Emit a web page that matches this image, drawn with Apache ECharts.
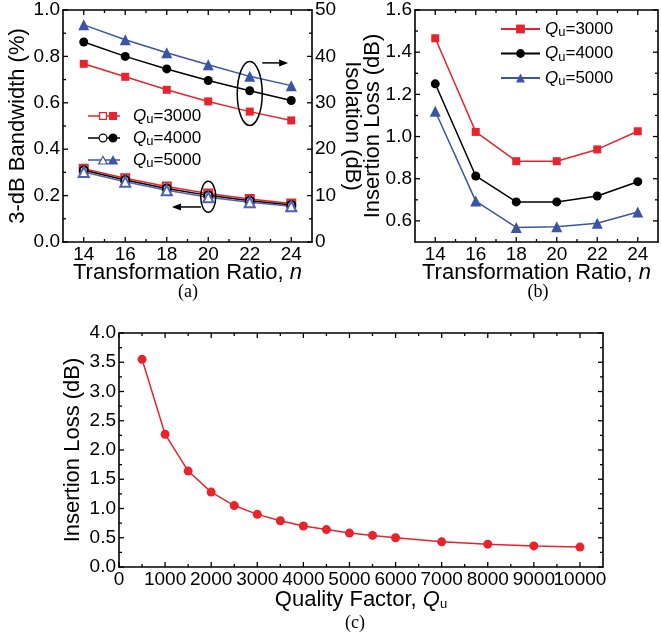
<!DOCTYPE html>
<html>
<head>
<meta charset="utf-8">
<script src="https://cdn.jsdelivr.net/npm/echarts@6/dist/echarts.min.js"></script>
<style>
  html, body { margin: 0; padding: 0; background: #fff; }
  #chart { width: 661px; height: 638px; }
</style>
</head>
<body>
<div id="chart"></div>
<script>
// ---- data ----
// (a) and (b): transformation ratio n
const nValues = [14, 16, 18, 20, 22, 24];
const nTicks = [14, 16, 18, 20, 22, 24];
const nMinorTicks = [15, 17, 19, 21, 23];

// (a) isolation (dB), right axis
const isoQ3000 = [38.4, 35.6, 32.8, 30.3, 28.1, 26.2];
const isoQ4000 = [43.1, 40.0, 37.3, 34.8, 32.6, 30.5];
const isoQ5000 = [46.8, 43.6, 40.8, 38.2, 35.7, 33.7];
// (a) 3-dB bandwidth (%), left axis
const bwQ3000 = [0.316, 0.275, 0.239, 0.209, 0.185, 0.166];
const bwQ4000 = [0.309, 0.267, 0.231, 0.201, 0.178, 0.160];
const bwQ5000 = [0.302, 0.260, 0.223, 0.193, 0.171, 0.154];
const bwTicks = [0, 0.2, 0.4, 0.6, 0.8, 1.0];
const bwMinorTicks = [0.1, 0.3, 0.5, 0.7, 0.9];
const isoTicks = [0, 10, 20, 30, 40, 50];
const isoMinorTicks = [5, 15, 25, 35, 45];

// (b) insertion loss (dB)
const ilQ3000 = [1.466, 1.022, 0.883, 0.883, 0.939, 1.025];
const ilQ4000 = [1.250, 0.813, 0.690, 0.690, 0.718, 0.786];
const ilQ5000 = [1.120, 0.694, 0.569, 0.572, 0.589, 0.642];
const ilTicks = [0.6, 0.8, 1.0, 1.2, 1.4, 1.6];
const ilMinorTicks = [0.7, 0.9, 1.1, 1.3, 1.5];

// (c) insertion loss vs unloaded quality factor
const qFactor = [500, 1000, 1500, 2000, 2500, 3000, 3500, 4000, 4500, 5000, 5500, 6000, 7000, 8000, 9000, 10000];
const ilVsQ = [3.55, 2.27, 1.64, 1.28, 1.05, 0.90, 0.79, 0.70, 0.64, 0.58, 0.54, 0.50, 0.43, 0.39, 0.36, 0.34];
const qTicks = [0, 1000, 2000, 3000, 4000, 5000, 6000, 7000, 8000, 9000, 10000];
const qMinorTicks = [500, 1500, 2500, 3500, 4500, 5500, 6500, 7500, 8500, 9500];
const ilcTicks = [0, 0.5, 1.0, 1.5, 2.0, 2.5, 3.0, 3.5, 4.0];
const ilcMinorTicks = [0.25, 0.75, 1.25, 1.75, 2.25, 2.75, 3.25, 3.75];

// annotation anchors (data coordinates of panel (a))
const isoCallout = { n: 22, iso: 32, arrowFrom: 22.6, arrowTo: 23.85, arrowIso: 38.6 };
const bwCallout = { n: 20, bw: 0.195, arrowFrom: 19.65, arrowTo: 18.25, arrowBw: 0.151 };

// ---- styling ----
const FONT = 'Liberation Sans';
const RED = '#e8232b', BLACK = '#000000', BLUE = '#3b55a6';
const TICK_FONT = 19, NAME_FONT = 22;
const MAJOR_LEN = 5, MINOR_LEN = 3;
const SUB = { fontSize: 13, lineHeight: 10, verticalAlign: 'bottom', fontFamily: FONT };

function pairs(xs, ys) { return xs.map((x, i) => [x, ys[i]]); }

// One framed axis; labels only on the listed values. Tick marks are added after layout.
function frameAxis(gridIndex, position, min, max, step, labelVals, fmt, extra) {
  const shown = v => labelVals.some(t => Math.abs(t - v) < 1e-6);
  return Object.assign({
    gridIndex, type: 'value', position, min, max, interval: step,
    splitLine: { show: false },
    nameMoveOverlap: false,
    axisLine: { show: true, onZero: false, lineStyle: { color: '#000', width: 1.6 } },
    axisTick: { show: false },
    axisLabel: fmt ? {
      show: true, color: '#000', fontSize: TICK_FONT, fontFamily: FONT, margin: 3,
      formatter: v => shown(v) ? fmt(v) : ''
    } : { show: false }
  }, extra || {});
}

function axisName(name, gap, rotate, rich) {
  const o = {
    name, nameLocation: 'middle', nameGap: gap,
    nameTextStyle: { fontSize: NAME_FONT, fontFamily: FONT, color: '#000', lineHeight: 22, rich: rich || {} }
  };
  if (rotate !== undefined) o.nameRotate = rotate;
  return o;
}

const fmt1 = v => v.toFixed(1);
const fmt0 = v => String(Math.round(v));
const nRich = { i: { fontStyle: 'italic', fontSize: NAME_FONT, fontFamily: FONT, lineHeight: 22 } };

const xAxes = [
  // panel (a)
  frameAxis(0, 'bottom', 13, 25, 1, nTicks, fmt0,
    axisName('Transformation Ratio, {i|n}', 20, undefined, nRich)),
  frameAxis(0, 'top', 13, 25, 1, nTicks, null),
  // panel (b)
  frameAxis(1, 'bottom', 13, 25, 1, nTicks, fmt0,
    axisName('Transformation Ratio, {i|n}', 20, undefined, nRich)),
  frameAxis(1, 'top', 13, 25, 1, nTicks, null),
  // panel (c)
  frameAxis(2, 'bottom', 0, 10500, 500, qTicks, fmt0,
    axisName('Quality Factor, {q|Q}{u|u}', 22, undefined, {
      q: { fontStyle: 'italic', fontSize: NAME_FONT, fontFamily: FONT, lineHeight: 22 }, u: SUB })),
  frameAxis(2, 'top', 0, 10500, 500, qTicks, null)
];

const yAxes = [
  // panel (a)
  frameAxis(0, 'left', 0, 1, 0.1, bwTicks, fmt1, axisName('3-dB Bandwidth (%)', 34)),
  frameAxis(0, 'right', 0, 50, 5, isoTicks, fmt0, axisName('Isolation (dB)', 29, -90)),
  // panel (b)
  frameAxis(1, 'left', 0.5, 1.6, 0.1, ilTicks, fmt1, axisName('Insertion Loss (dB)', 31)),
  frameAxis(1, 'right', 0.5, 1.6, 0.1, ilTicks, null),
  // panel (c)
  frameAxis(2, 'left', 0, 4, 0.25, ilcTicks, fmt1, axisName('Insertion Loss (dB)', 35)),
  frameAxis(2, 'right', 0, 4, 0.25, ilcTicks, null)
];

function lineSeries(name, xi, yi, data, color, symbol, size, extra) {
  return Object.assign({
    name, type: 'line', xAxisIndex: xi, yAxisIndex: yi, data,
    symbol, symbolSize: size, showSymbol: true,
    lineStyle: { color, width: 1.5 },
    itemStyle: { color },
    emphasis: { disabled: true }
  }, extra || {});
}
const hollow = color => ({ itemStyle: { color, borderColor: color, borderWidth: 1.2 }, z: 3 });

const series = [
  // (a) bandwidth, hollow markers on the left axis
  lineSeries('Bandwidth, Qu=3000', 0, 0, pairs(nValues, bwQ3000), RED, 'emptyRect', 8, hollow(RED)),
  lineSeries('Bandwidth, Qu=4000', 0, 0, pairs(nValues, bwQ4000), BLACK, 'emptyCircle', 8, hollow(BLACK)),
  lineSeries('Bandwidth, Qu=5000', 0, 0, pairs(nValues, bwQ5000), '#4a63b4', 'emptyTriangle', 10, hollow('#4a63b4')),
  // (a) isolation, filled markers on the right axis
  lineSeries('Isolation, Qu=3000', 0, 1, pairs(nValues, isoQ3000), RED, 'rect', 8),
  lineSeries('Isolation, Qu=4000', 0, 1, pairs(nValues, isoQ4000), BLACK, 'circle', 9),
  lineSeries('Isolation, Qu=5000', 0, 1, pairs(nValues, isoQ5000), BLUE, 'triangle', 11),
  // (b) insertion loss
  lineSeries('Insertion loss, Qu=3000', 2, 2, pairs(nValues, ilQ3000), RED, 'rect', 8),
  lineSeries('Insertion loss, Qu=4000', 2, 2, pairs(nValues, ilQ4000), BLACK, 'circle', 9),
  lineSeries('Insertion loss, Qu=5000', 2, 2, pairs(nValues, ilQ5000), BLUE, 'triangle', 11),
  // (c) insertion loss vs Qu
  lineSeries('Insertion loss vs Qu', 4, 4, pairs(qFactor, ilVsQ), RED, 'circle', 9)
];

// Legend icons for panel (a): line, hollow marker, filled marker (hollow drawn as a ring).
const ICON_SQ = 'path://M0,0 M40,12 ' +
  'M0,5.25 L11,5.25 L11,6.75 L0,6.75 Z M19,5.25 L21,5.25 L21,6.75 L19,6.75 Z M29,5.25 L32,5.25 L32,6.75 L29,6.75 Z ' +
  'M11,2 L19,2 L19,10 L11,10 Z M12.2,3.2 L12.2,8.8 L17.8,8.8 L17.8,3.2 Z ' +
  'M21,2 L29,2 L29,10 L21,10 Z';
const ICON_CI = 'path://M0,0 M40,12 ' +
  'M0,5.25 L10.6,5.25 L10.6,6.75 L0,6.75 Z M19.4,5.25 L20.6,5.25 L20.6,6.75 L19.4,6.75 Z M29.4,5.25 L32,5.25 L32,6.75 L29.4,6.75 Z ' +
  'M10.5,6 A4.5,4.5 0 1,0 19.5,6 A4.5,4.5 0 1,0 10.5,6 Z M11.7,6 A3.3,3.3 0 1,1 18.3,6 A3.3,3.3 0 1,1 11.7,6 Z ' +
  'M20.5,6 A4.5,4.5 0 1,0 29.5,6 A4.5,4.5 0 1,0 20.5,6 Z';
const ICON_TR = 'path://M0,0 M40,12 ' +
  'M0,5.25 L12.6,5.25 L12.6,6.75 L0,6.75 Z M17.4,5.25 L22.6,5.25 L22.6,6.75 L17.4,6.75 Z M27.4,5.25 L32,5.25 L32,6.75 L27.4,6.75 Z ' +
  'M15,1.2 L20.3,10.6 L9.7,10.6 Z M15,3.6 L11.8,9.5 L18.2,9.5 Z ' +
  'M25,1.2 L30.3,10.6 L19.7,10.6 Z';

const legendRich = {
  q: { fontStyle: 'italic', fontSize: 17, fontFamily: FONT, lineHeight: 20 },
  u: SUB
};
const legendLabel = name => '{q|Q}{u|u}=' + name.split('=')[1];
const legendText = { fontSize: 17, fontFamily: FONT, color: '#000', lineHeight: 20, rich: legendRich };

const panelLetter = (text, x, y) => ({
  type: 'text', x, y,
  style: { text, fontSize: 18, fontFamily: 'Liberation Serif', fill: '#000', align: 'center', verticalAlign: 'middle' }
});

const option = {
  animation: false,
  backgroundColor: '#fff',
  textStyle: { fontFamily: FONT, color: '#000' },
  grid: [
    { left: 63, top: 10, width: 249, height: 232 },
    { left: 415, top: 10, width: 246, height: 232 },
    { left: 119, top: 333, width: 484, height: 234 }
  ],
  xAxis: xAxes,
  yAxis: yAxes,
  legend: [
    {
      data: [
        { name: 'Isolation, Qu=3000', icon: ICON_SQ },
        { name: 'Isolation, Qu=4000', icon: ICON_CI },
        { name: 'Isolation, Qu=5000', icon: ICON_TR }
      ],
      orient: 'vertical', left: 88, top: 106, padding: 0,
      itemWidth: 40, itemHeight: 12, itemGap: 2,
      selectedMode: false, formatter: legendLabel,
      itemStyle: { borderWidth: 0 },
      textStyle: legendText
    },
    {
      data: ['Insertion loss, Qu=3000', 'Insertion loss, Qu=4000', 'Insertion loss, Qu=5000'],
      orient: 'vertical', left: 500, top: 19, padding: 0,
      itemWidth: 39, itemHeight: 11, itemGap: 4.5,
      selectedMode: false, formatter: legendLabel,
      textStyle: legendText
    }
  ],
  series,
  graphic: [panelLetter('(a)', 188, 292), panelLetter('(b)', 538, 292), panelLetter('(c)', 355, 623)]
};

const chart = echarts.init(document.getElementById('chart'), null, { renderer: 'canvas' });
chart.setOption(option);

// Inward tick marks of each frame, positioned through the axes.
// sides: 'b' bottom, 't' top, 'l' left, 'r' right.
function frameTicks(xi, yi, ext, spec) {
  const [x0, x1, y0, y1] = ext;
  const P = (x, y) => chart.convertToPixel({ xAxisIndex: xi, yAxisIndex: yi }, [x, y]);
  const lb = P(x0, y0), rt = P(x1, y1);
  const left = lb[0], bottom = lb[1], right = rt[0], top = rt[1];
  const els = [];
  const seg = (a, b, c, d) => els.push({
    type: 'line', silent: true, z: 9,
    shape: { x1: a, y1: b, x2: c, y2: d }, style: { stroke: '#000', lineWidth: 1.3 }
  });
  (spec.x || []).forEach(([vals, major]) => vals.forEach(v => {
    const L = major ? MAJOR_LEN : MINOR_LEN, px = P(v, y0)[0];
    if (spec.sides.includes('b')) seg(px, bottom, px, bottom - L);
    if (spec.sides.includes('t')) seg(px, top, px, top + L);
  }));
  (spec.y || []).forEach(([vals, major]) => vals.forEach(v => {
    const L = major ? MAJOR_LEN : MINOR_LEN, py = P(x0, v)[1];
    if (spec.sides.includes('l')) seg(left, py, left + L, py);
    if (spec.sides.includes('r')) seg(right, py, right - L, py);
  }));
  return els;
}

// Callout ellipses and arrows of panel (a), placed through the axes.
function arrow(from, to) {
  const dx = to[0] - from[0], dy = to[1] - from[1];
  const len = Math.hypot(dx, dy), ux = dx / len, uy = dy / len;
  const hl = 9, hw = 3.5;
  const bx = to[0] - ux * hl, by = to[1] - uy * hl;
  return [
    { type: 'line', shape: { x1: from[0], y1: from[1], x2: bx, y2: by }, style: { stroke: '#000', lineWidth: 1.5 }, z: 10 },
    { type: 'polygon', shape: { points: [to, [bx - uy * hw, by + ux * hw], [bx + uy * hw, by - ux * hw]] }, style: { fill: '#000' }, z: 10 }
  ];
}
const isoPx = (n, v) => chart.convertToPixel({ xAxisIndex: 0, yAxisIndex: 1 }, [n, v]);
const bwPx = (n, v) => chart.convertToPixel({ xAxisIndex: 0, yAxisIndex: 0 }, [n, v]);

const c1 = isoPx(isoCallout.n, isoCallout.iso);
const c2 = bwPx(bwCallout.n, bwCallout.bw);
const callouts = [
  { type: 'ellipse', shape: { cx: c1[0], cy: c1[1], rx: 12.5, ry: 32 }, style: { fill: 'none', stroke: '#000', lineWidth: 1.5 }, z: 10 },
  { type: 'ellipse', shape: { cx: c2[0], cy: c2[1], rx: 7.5, ry: 15.5 }, style: { fill: 'none', stroke: '#000', lineWidth: 1.5 }, z: 10 }
].concat(
  arrow(isoPx(isoCallout.arrowFrom, isoCallout.arrowIso), isoPx(isoCallout.arrowTo, isoCallout.arrowIso)),
  arrow(bwPx(bwCallout.arrowFrom, bwCallout.arrowBw), bwPx(bwCallout.arrowTo, bwCallout.arrowBw))
);

const ticks = [].concat(
  frameTicks(0, 0, [13, 25, 0, 1], { x: [[nTicks, 1], [nMinorTicks, 0]], y: [[bwTicks, 1], [bwMinorTicks, 0]], sides: 'btl' }),
  frameTicks(0, 1, [13, 25, 0, 50], { y: [[isoTicks, 1], [isoMinorTicks, 0]], sides: 'r' }),
  frameTicks(2, 2, [13, 25, 0.5, 1.6], { x: [[nTicks, 1], [nMinorTicks, 0]], y: [[ilTicks, 1], [ilMinorTicks, 0]], sides: 'btlr' }),
  frameTicks(4, 4, [0, 10500, 0, 4], { x: [[qTicks, 1], [qMinorTicks, 0]], y: [[ilcTicks, 1], [ilcMinorTicks, 0]], sides: 'btlr' })
);

chart.setOption({ graphic: option.graphic.concat(callouts, ticks) });
</script>
</body>
</html>
